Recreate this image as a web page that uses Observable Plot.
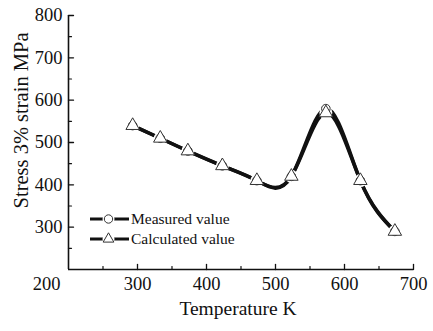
<!DOCTYPE html>
<html>
<head>
<meta charset="utf-8">
<script src="https://cdn.jsdelivr.net/npm/d3@7"></script>
<script src="https://cdn.jsdelivr.net/npm/@observablehq/plot@0.6"></script>
<style>
  body { margin: 0; background: #fff; }
  #wrap { position: relative; width: 433px; height: 331px; font-family: "Liberation Serif", "Times New Roman", serif; }
  #legend { position: absolute; left: 89px; top: 209px; font-size: 15.5px; color: #111; }
  .row { display: flex; align-items: center; height: 20px; }
  .row svg { display: block; margin-right: 1px; }
</style>
</head>
<body>
<div id="wrap"><div id="legend"></div></div>
<script>
// Data (temperature K, stress MPa)
const temps      = [293, 333, 373, 423, 473, 523, 573, 623, 673];
const calculated = [540, 510, 480, 445, 410, 420, 570, 410, 290];
const measured   = [540, 510, 480, 445, 410, 420, 580, 410, 290];
const xTicks = [300, 400, 500, 600, 700];
const yTicks = [300, 400, 500, 600, 700, 800];
const xMinor = [250, 350, 450, 550, 650];
const yMinor = [250, 350, 450, 550, 650, 750];
const originLabel = ["200"];
const xTitle = "Temperature K";
const yTitle = "Stress 3% strain MPa";
const seriesNames = ["Measured value", "Calculated value"];

const calcData = temps.map((t, i) => ({t, v: calculated[i]}));
const measData = temps.map((t, i) => ({t, v: measured[i]}));

const tickShape = {draw(context, l) { context.moveTo(0, 0); context.lineTo(0, -l); }};
const font = "Liberation Serif";

const chart = Plot.plot({
  width: 433, height: 331,
  marginLeft: 68, marginRight: 20, marginTop: 15, marginBottom: 62,
  x: {domain: [200, 700], axis: null},
  y: {domain: [200, 800], axis: null},
  style: {fontFamily: font, background: "transparent"},
  marks: [
    // axis lines
    Plot.ruleX([200], {stroke: "#111", strokeWidth: 1.6}),
    Plot.ruleY([200], {stroke: "#111", strokeWidth: 1.6}),
    // inward ticks
    Plot.vector(xTicks, {x: d => d, y: 200, length: 5, rotate: 0, anchor: "start", shape: tickShape, stroke: "#111", strokeWidth: 1.3}),
    Plot.vector(xMinor, {x: d => d, y: 200, length: 3, rotate: 0, anchor: "start", shape: tickShape, stroke: "#111", strokeWidth: 1.2}),
    Plot.vector(yTicks, {x: 200, y: d => d, length: 5, rotate: 90, anchor: "start", shape: tickShape, stroke: "#111", strokeWidth: 1.3}),
    Plot.vector(yMinor, {x: 200, y: d => d, length: 3, rotate: 90, anchor: "start", shape: tickShape, stroke: "#111", strokeWidth: 1.2}),
    // tick labels
    Plot.text(xTicks, {x: d => d, y: 200, text: d => String(d), dy: 15, fontSize: 18.5, fill: "#111", textAnchor: "middle"}),
    Plot.text(yTicks, {x: 200, y: d => d, text: d => String(d), dx: -6, fontSize: 18.5, fill: "#111", textAnchor: "end"}),
    Plot.text(originLabel, {x: 200, y: 200, text: d => d, dx: -8, dy: 15, fontSize: 18.5, fill: "#111", textAnchor: "end"}),
    // axis titles
    Plot.text([xTitle], {frameAnchor: "bottom", text: d => d, dx: -3, dy: 45, fontSize: 19.5, fill: "#111", textAnchor: "middle"}),
    Plot.text([yTitle], {frameAnchor: "left", text: d => d, rotate: -90, dx: -47, dy: -22, fontSize: 20.5, fill: "#111", textAnchor: "middle"}),
    // curves
    Plot.line(measData, {x: "t", y: "v", curve: "natural", stroke: "#111", strokeWidth: 3.5}),
    Plot.line(calcData, {x: "t", y: "v", curve: "natural", stroke: "#111", strokeWidth: 3.5}),
    // halos around markers
    Plot.dot(calcData, {x: "t", y: "v", r: 6.5, fill: "white", stroke: "none"}),
    Plot.dot(measData.filter((d, i) => d.v !== calcData[i].v), {x: "t", y: "v", r: 5.5, fill: "white", stroke: "none"}),
    // markers
    Plot.dot(measData, {x: "t", y: "v", r: 4.3, symbol: "circle", fill: "white", stroke: "#333", strokeWidth: 1}),
    Plot.dot(calcData, {x: "t", y: "v", r: 5, symbol: "triangle", fill: "white", stroke: "#333", strokeWidth: 1})
  ]
});
document.getElementById("wrap").prepend(chart);

// legend
const legend = d3.select("#legend");
const symbols = [d3.symbolCircle, d3.symbolTriangle];
seriesNames.forEach((name, i) => {
  const row = legend.append("div").attr("class", "row");
  const svg = row.append("svg").attr("width", 41).attr("height", 16);
  svg.append("line").attr("x1", 1).attr("x2", 40).attr("y1", 8).attr("y2", 8)
    .attr("stroke", "#111").attr("stroke-width", 3.2);
  svg.append("circle").attr("cx", 19.5).attr("cy", 8).attr("r", 6).attr("fill", "white");
  svg.append("path").attr("transform", "translate(19.5,8)")
    .attr("d", d3.symbol(symbols[i], i === 0 ? 55 : 50)())
    .attr("fill", "white").attr("stroke", "#333").attr("stroke-width", 1);
  row.append("span").text(name);
});
</script>
</body>
</html>
